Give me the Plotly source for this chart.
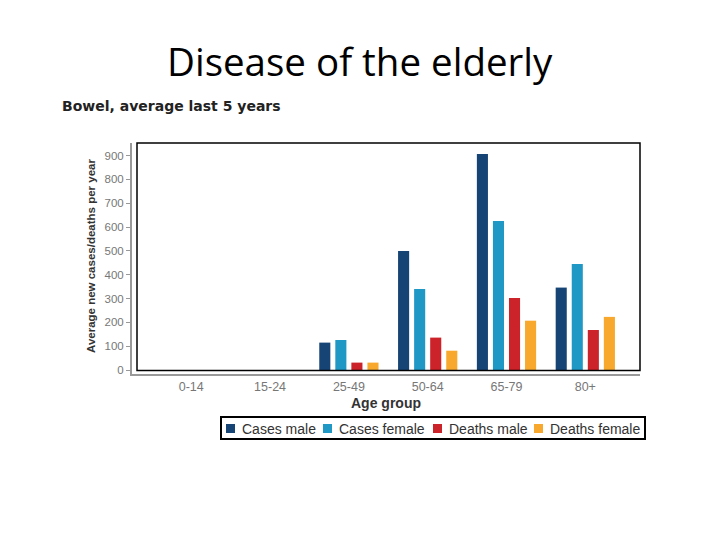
import plotly.graph_objects as go

age_groups = ["0-14", "15-24", "25-49", "50-64", "65-79", "80+"]
cases_male = [0, 0, 115, 500, 907, 346]
cases_female = [0, 0, 126, 340, 626, 445]
deaths_male = [0, 0, 31, 136, 302, 168]
deaths_female = [0, 0, 31, 81, 207, 223]

series_names = ["Cases male", "Cases female", "Deaths male", "Deaths female"]
series_values = [cases_male, cases_female, deaths_male, deaths_female]
colors = ["#164575", "#1f98c5", "#cc2229", "#f7a82d"]
y_ticks = [0, 100, 200, 300, 400, 500, 600, 700, 800, 900]

# page offset (body margin) so reference pixel coords map correctly
OFF = 8
W, H = 720 - OFF, 540 - OFF
L, R, T, B = 132, 640, 143, 374  # plot area in reference pixels
pw, ph = R - L, B - T


def px(x):
    return (x - L) / pw


def py(y):
    return (B - y) / ph


fig = go.Figure()
for name, vals, col in zip(series_names, series_values, colors):
    fig.add_trace(go.Bar(x=list(range(len(age_groups))), y=vals, name=name,
                         marker=dict(color=col, line=dict(width=0))))

annotations = [
    dict(text="Disease of the elderly", xref="paper", yref="paper",
         x=px(359.5), y=py(61), xanchor="center", yanchor="middle",
         showarrow=False, font=dict(family="Open Sans, sans-serif", size=38.5, color="black")),
    dict(text="<b>Bowel, average last 5 years</b>", xref="paper", yref="paper",
         x=px(60), y=py(106), xanchor="left", yanchor="middle",
         showarrow=False, font=dict(family="DejaVu Sans, sans-serif", size=14, color="#222")),
    dict(text="<b>Average new cases/deaths per year</b>", xref="paper", yref="paper",
         x=px(91), y=py(256), xanchor="center", yanchor="middle",
         textangle=-90, showarrow=False,
         font=dict(size=11.5, color="#333")),
    dict(text="<b>Age group</b>", xref="paper", yref="paper",
         x=px(386), y=py(403), xanchor="center", yanchor="middle",
         showarrow=False, font=dict(size=14, color="#333")),
]

shapes = [dict(type="rect", xref="paper", yref="paper",
               x0=px(137), x1=1, y0=py(370.5), y1=1,
               line=dict(color="black", width=1.5), layer="above"),
          dict(type="rect", xref="paper", yref="paper",
               x0=px(221), x1=px(645), y0=py(439), y1=py(417),
               line=dict(color="black", width=2))]

# custom legend (tight spacing as in reference)
legend_sq_x = [226, 323, 433, 534]
for name, col, sx in zip(series_names, colors, legend_sq_x):
    shapes.append(dict(type="rect", xref="paper", yref="paper",
                       x0=px(sx), x1=px(sx + 9), y0=py(433), y1=py(424),
                       fillcolor=col, line=dict(width=0)))
    annotations.append(dict(text=name, xref="paper", yref="paper",
                            x=px(sx + 14), y=py(428.5), xanchor="left", yanchor="middle",
                            showarrow=False, font=dict(size=14, color="#333")))

fig.update_layout(
    width=W, height=H,
    margin=dict(l=L - OFF, r=720 - R, t=T - OFF, b=540 - B, pad=0),
    paper_bgcolor="white", plot_bgcolor="white",
    barmode="group", bargap=0.185, bargroupgap=0.31,
    font=dict(family="Liberation Sans, Arial, sans-serif", color="#333"),
    showlegend=False,
    xaxis=dict(tickmode="array", tickvals=list(range(len(age_groups))),
               ticktext=age_groups, range=[-0.752, 5.694],
               showline=True, linecolor="#999", linewidth=1.5,
               ticks="", showgrid=False, zeroline=False,
               tickfont=dict(size=12.5, color="#777"), fixedrange=True),
    yaxis=dict(tickvals=y_ticks, range=[-16.8, 953],
               showline=True, linecolor="#999", linewidth=2,
               ticks="outside", ticklen=4, tickcolor="#999",
               showgrid=False, zeroline=False,
               tickfont=dict(size=11.5, color="#777"), fixedrange=True),
    shapes=shapes,
    annotations=annotations,
)

fig.write_html("out.html")
